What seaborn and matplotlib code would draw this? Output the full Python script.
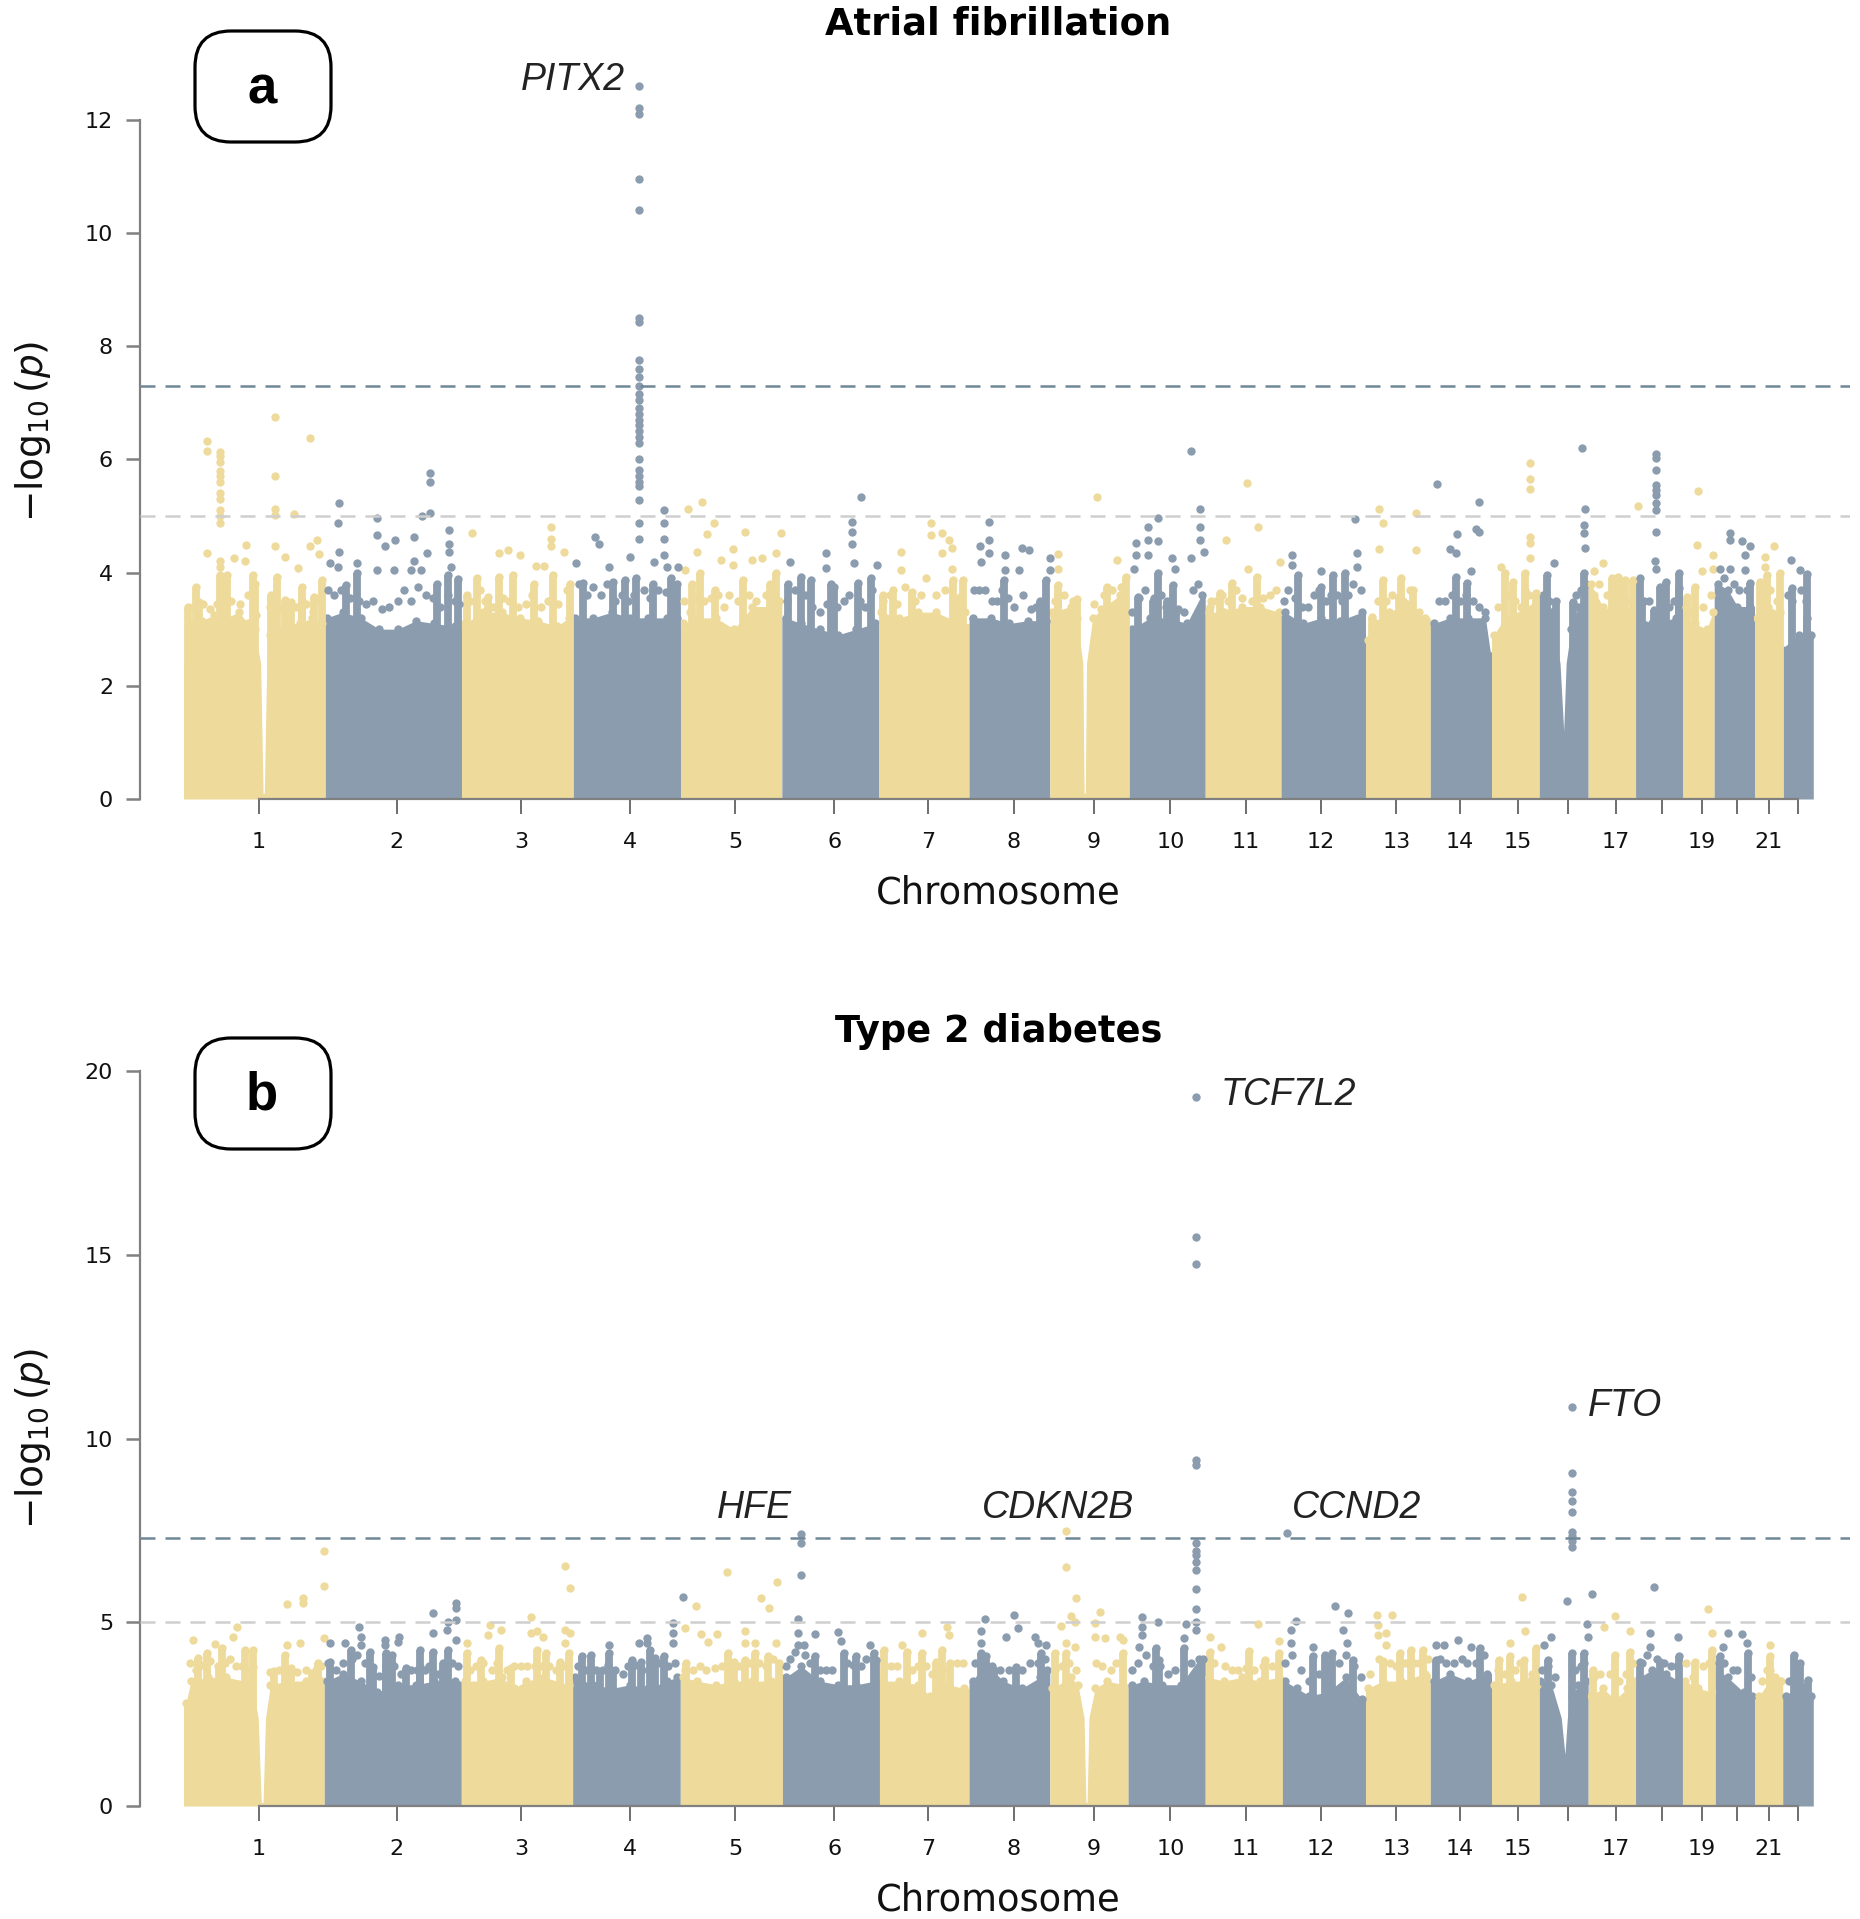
import numpy as np
import pandas as pd
import matplotlib
matplotlib.use("Agg")
import matplotlib.pyplot as plt
import seaborn as sns
from matplotlib.patches import FancyBboxPatch
from matplotlib.transforms import IdentityTransform

# x positions are genome units, y is -log10(p)
chrom_edges = [150, 265, 377, 468, 556, 639, 718, 792, 858, 922, 985, 1047, 1116, 1169,
               1219, 1257, 1298, 1337, 1374, 1401, 1434, 1457, 1482]
chrom_ticks = [211.3, 324.4, 425.8, 515.2, 601, 682, 758.4, 828.6, 894, 956.6, 1018, 1079.5,
               1141.3, 1193, 1240.5, 1281.4, 1320.5, 1358.6, 1390.9, 1419.5, 1445.6, 1469.3]
chrom_labels = ["1", "2", "3", "4", "5", "6", "7", "8", "9", "10", "11", "12", "13", "14", "15",
                "", "17", "", "19", "", "21", ""]

# solid part of each panel (top of the dense mass of SNPs)
a_sky_x = [152, 156, 165, 175, 185, 195, 203, 208, 213, 215, 216, 218, 221, 225, 235, 245, 255, 263,
           267, 280, 295, 310, 325, 340, 355, 372,
           380, 395, 410, 425, 440, 455, 465,
           470, 485, 500, 515, 530, 545, 553,
           558, 570, 585, 600, 615, 630, 637,
           642, 655, 670, 685, 700, 715,
           720, 735, 750, 765, 785,
           795, 810, 825, 840, 855,
           860, 875, 880, 885, 886, 887, 888, 893, 900, 915,
           925, 940, 955, 970, 982,
           988, 1000, 1015, 1030, 1045,
           1050, 1065, 1080, 1095, 1113,
           1118, 1125, 1135, 1150, 1165,
           1172, 1185, 1200, 1214, 1218,
           1221, 1230, 1245, 1255,
           1259, 1268, 1275, 1278, 1280, 1284, 1290, 1296,
           1300, 1310, 1320, 1330, 1336,
           1340, 1350, 1360, 1370,
           1377, 1385, 1395, 1400,
           1404, 1412, 1420, 1430,
           1436, 1445, 1455,
           1459, 1470, 1480]
a_sky_y = [2.4, 3.1, 3.15, 3.25, 3.2, 3.3, 3.1, 3.0, 2.4, 0.1, 0.1, 2.4, 2.9, 3.0, 3.1, 3.1, 3.2, 3.1,
           3.2, 3.3, 3.2, 3.0, 3.0, 3.15, 3.1, 3.05,
           3.1, 3.3, 3.3, 3.2, 3.15, 3.05, 3.2,
           3.2, 3.2, 3.3, 3.2, 3.2, 3.2, 3.2,
           3.1, 3.2, 3.2, 3.0, 3.4, 3.4, 3.5,
           3.2, 3.1, 3.0, 2.9, 3.0, 3.1,
           3.3, 3.2, 3.3, 3.3, 3.1,
           3.2, 3.2, 3.1, 3.15, 3.15,
           3.3, 3.4, 3.2, 2.4, 0.1, 0.1, 2.4, 3.2, 3.35, 3.6,
           3.0, 3.2, 3.2, 3.1, 3.6,
           3.3, 3.3, 3.4, 3.4, 3.3,
           3.3, 3.1, 3.2, 3.15, 3.3,
           2.8, 3.1, 3.3, 3.45, 3.2,
           3.1, 3.2, 3.2, 3.2, 2.6,
           2.9, 3.2, 3.35, 3.5,
           3.5, 3.3, 2.4, 1.2, 2.4, 3.0, 3.4, 3.8,
           3.8, 3.4, 3.3, 3.3, 3.2,
           3.2, 3.1, 3.15, 3.2,
           3.2, 3.1, 3.0, 3.3,
           3.8, 3.7, 3.4, 3.4,
           3.2, 3.4, 3.3,
           2.7, 2.9, 2.9]

b_sky_x = [152, 156, 170, 185, 200, 206, 211, 213.5, 215, 217, 221, 235, 250, 263,
           267, 280, 295, 308, 325, 340, 355, 372,
           380, 395, 410, 420, 430, 445, 465,
           470, 485, 500, 515, 530, 545, 553,
           558, 570, 585, 600, 615, 630, 637,
           642, 655, 670, 685, 700, 715,
           720, 735, 750, 760, 775, 788,
           795, 805, 820, 835, 850, 856,
           860, 875, 881, 886, 887.5, 888.5, 890, 895, 905, 918,
           925, 935, 950, 965, 980,
           988, 1000, 1015, 1030, 1045,
           1050, 1060, 1070, 1085, 1100, 1113,
           1118, 1130, 1145, 1165,
           1172, 1185, 1200, 1215,
           1221, 1235, 1250, 1256,
           1259, 1268, 1276, 1279, 1281, 1285, 1290, 1296,
           1300, 1310, 1320, 1330, 1336,
           1340, 1350, 1362, 1372,
           1377, 1388, 1399,
           1404, 1412, 1425, 1432,
           1438, 1448, 1456,
           1460, 1470, 1480]
b_sky_y = [2.8, 3.4, 3.5, 3.5, 3.4, 3.3, 2.4, 0.1, 0.1, 2.4, 3.3, 3.4, 3.4, 3.4,
           3.4, 3.6, 3.4, 3.1, 3.3, 3.3, 3.4, 3.4,
           3.4, 3.4, 3.5, 3.2, 3.4, 3.5, 3.3,
           3.5, 3.3, 3.2, 3.3, 3.2, 3.4, 3.5,
           3.5, 3.4, 3.3, 3.4, 3.4, 3.4, 3.5,
           3.5, 3.8, 3.4, 3.3, 3.3, 3.4,
           3.4, 3.4, 3.3, 3.0, 3.3, 3.2,
           3.4, 3.9, 3.4, 3.2, 3.5, 3.7,
           3.2, 3.5, 3.3, 2.4, 0.1, 0.1, 2.4, 3.2, 3.4, 3.3,
           3.3, 3.4, 3.3, 3.3, 4.0,
           3.5, 3.4, 3.5, 3.4, 3.5,
           3.4, 3.2, 3.0, 3.1, 3.5, 2.9,
           3.2, 3.4, 3.4, 3.6,
           3.4, 3.6, 3.4, 3.6,
           3.3, 3.4, 3.4, 3.3,
           3.4, 3.3, 2.4, 1.4, 2.4, 3.0, 3.3, 3.4,
           3.0, 3.2, 2.9, 3.2, 3.4,
           3.5, 3.7, 3.6, 3.4,
           3.4, 3.2, 3.1,
           3.7, 3.5, 3.1, 3.0,
           3.0, 3.5, 3.4,
           3.0, 3.3, 3.0]

# uneven shoulder of SNPs sitting just above the mass
a_shoulder_x = [158, 166, 172, 177, 184, 189, 196, 203, 209,
                221, 229, 236, 242, 250, 256, 262,
                268, 273, 279, 286, 293, 299, 305, 312, 318, 325, 330, 336, 342, 348, 354, 360, 366, 372, 375,
                384, 392, 396, 403, 411, 416, 423, 430, 435, 442, 448, 456, 463,
                473, 480, 485, 491, 496, 503, 508, 513, 518, 526, 531, 538, 544, 551,
                559, 564, 568, 575, 581, 587, 592, 596, 603, 612, 618, 626, 632,
                643, 650, 658, 664, 670, 676, 684, 690, 694, 703, 707, 713,
                722, 727, 733, 740, 748, 753, 757, 765, 772, 783, 789,
                796, 800, 805, 811, 815, 819, 824, 829, 836, 843, 847, 853,
                862, 870, 877, 894, 902, 909, 916,
                925, 931, 936, 943, 949, 953, 963, 968, 975, 979,
                990, 994, 999, 1004, 1010, 1015, 1023, 1032, 1038, 1043,
                1049, 1053, 1058, 1064, 1069, 1074, 1078, 1084, 1088, 1093, 1097, 1102, 1106, 1112,
                1126, 1133, 1138, 1147, 1152, 1160,
                1176, 1181, 1187, 1193, 1198, 1204, 1209, 1214,
                1224, 1233, 1238, 1243, 1250,
                1261, 1266, 1288, 1292,
                1303, 1307, 1313, 1318, 1325, 1333,
                1344, 1348, 1358, 1364, 1368,
                1378, 1382, 1392, 1398,
                1409, 1417, 1421, 1428,
                1439, 1447, 1452,
                1461, 1465, 1472, 1476]
a_shoulder_y = [3.4, 3.45, 3.35, 3.45, 3.5, 3.5, 3.45, 3.6, 3.25,
                3.4, 3.35, 3.45, 3.4, 3.45, 3.3, 3.5,
                3.7, 3.6, 3.7, 3.55, 3.5, 3.45, 3.5, 3.35, 3.4, 3.5, 3.7, 3.5, 3.75, 3.6, 3.55, 3.4, 3.6, 3.5, 3.45,
                3.5, 3.7, 3.5, 3.4, 3.55, 3.5, 3.4, 3.45, 3.6, 3.4, 3.5, 3.45, 3.7,
                3.8, 3.6, 3.75, 3.6, 3.8, 3.5, 3.6, 3.5, 3.6, 3.7, 3.55, 3.7, 3.65, 3.5,
                3.5, 3.3, 3.55, 3.5, 3.55, 3.6, 3.4, 3.6, 3.5, 3.6, 3.5, 3.6, 3.6,
                3.5, 3.7, 3.6, 3.4, 3.3, 3.45, 3.4, 3.5, 3.6, 3.5, 3.4, 3.7,
                3.5, 3.6, 3.45, 3.75, 3.5, 3.6, 3.9, 3.6, 3.7, 3.5, 3.3,
                3.7, 3.7, 3.7, 3.5, 3.5, 3.7, 3.55, 3.4, 3.6, 3.35, 3.4, 3.5,
                3.5, 3.6, 3.5, 3.45, 3.6, 3.7, 3.75,
                3.3, 3.55, 3.7, 3.55, 3.6, 3.4, 3.35, 3.3, 3.7, 3.8,
                3.5, 3.5, 3.6, 3.5, 3.7, 3.55, 3.5, 3.55, 3.6, 3.7,
                3.5, 3.7, 3.55, 3.4, 3.4, 3.6, 3.7, 3.5, 3.6, 3.6, 3.5, 3.6, 3.8, 3.7,
                3.5, 3.5, 3.6, 3.5, 3.7, 3.3,
                3.5, 3.5, 3.6, 3.5, 3.6, 3.5, 3.4, 3.3,
                3.4, 3.6, 3.5, 3.4, 3.6,
                3.6, 3.5, 3.6, 3.7,
                3.6, 3.8, 3.6, 3.5, 3.5, 3.5,
                3.5, 3.5, 3.4, 3.4, 3.5,
                3.4, 3.3, 3.4, 3.6,
                3.9, 3.8, 3.7, 3.7,
                3.5, 3.7, 3.5,
                3.6, 3.5, 3.7, 3.5]

b_shoulder_x = [155, 160, 165, 172, 178, 184, 188, 193, 198, 204,
                221, 228, 236, 243, 250, 258, 262,
                268, 275, 280, 288, 292, 298, 303, 310, 317, 322, 328, 336, 341, 347, 351, 358, 362, 369, 374,
                384, 389, 395, 402, 406, 414, 420, 426, 431, 437, 442, 449, 454, 460,
                472, 478, 487, 493, 497, 503, 509, 513, 519, 525, 534, 539, 546, 552,
                560, 566, 572, 577, 584, 590, 597, 604, 613, 620, 626, 632,
                642, 646, 650, 658, 662, 670, 675, 680, 692, 697, 704, 708, 714,
                723, 728, 733, 745, 750, 757, 762, 770, 782, 787,
                797, 811, 817, 825, 835, 842, 848, 854,
                862, 868, 874, 879, 896, 901, 908, 912,
                925, 930, 937, 942, 948, 955, 960, 973, 983,
                992, 1001, 1007, 1012, 1018, 1025, 1032, 1040,
                1050, 1056, 1063, 1070, 1078, 1087, 1094, 1100, 1107, 1112,
                1120, 1127, 1136, 1141, 1148, 1156, 1160, 1167,
                1177, 1182, 1188, 1195, 1199, 1206, 1213,
                1224, 1230, 1238, 1242, 1252,
                1260, 1265, 1271, 1287, 1292, 1295,
                1303, 1308, 1316, 1323, 1329, 1335,
                1342, 1346, 1354, 1360, 1366, 1371,
                1378, 1384, 1392, 1397,
                1405, 1409, 1416, 1420, 1431,
                1440, 1444, 1451, 1455,
                1462, 1467, 1474]
b_shoulder_y = [3.9, 3.7, 3.85, 3.95, 3.8, 3.9, 4.0, 3.8, 3.8, 3.7,
                3.65, 3.7, 3.7, 3.65, 3.7, 3.7, 3.8,
                3.9, 3.7, 3.9, 4.0, 4.1, 3.9, 3.6, 3.55, 3.7, 3.8, 3.6, 3.7, 3.7, 3.7, 3.8, 3.6, 3.7, 3.9, 3.8,
                3.7, 3.8, 3.9, 3.7, 3.9, 3.7, 3.8, 3.8, 3.8, 3.8, 3.8, 3.8, 3.7, 3.8,
                3.8, 3.7, 3.7, 3.7, 3.85, 3.7, 3.6, 3.8, 3.85, 3.7, 3.9, 3.9, 3.8, 3.9,
                3.7, 3.7, 3.8, 3.7, 3.75, 3.8, 3.9, 3.8, 3.9, 3.9, 3.8, 4.0,
                3.8, 4.0, 4.2, 4.1, 3.9, 3.7, 3.7, 3.7, 3.9, 3.85, 3.8, 4.0, 3.9,
                3.8, 3.8, 3.8, 3.7, 3.8, 3.8, 3.6, 3.7, 3.9, 3.9,
                3.9, 3.8, 3.7, 3.7, 3.7, 3.9, 3.9, 4.0,
                3.7, 3.8, 3.9, 3.7, 3.9, 3.8, 3.7, 3.9,
                3.7, 3.9, 4.1, 3.8, 3.8, 3.6, 3.7, 3.9, 4.0,
                3.9, 3.8, 3.7, 3.7, 3.75, 3.7, 3.8, 3.8,
                3.9, 4.1, 3.7, 3.4, 3.6, 3.8, 3.9, 4.1, 3.8, 3.5,
                3.6, 4.0, 3.9, 3.8, 3.9, 3.9, 3.9, 4.0,
                4.0, 3.9, 3.9, 4.0, 3.9, 3.9, 4.1,
                3.7, 3.6, 3.7, 3.9, 3.6,
                3.7, 3.8, 3.5, 3.7, 3.8, 3.9,
                3.5, 3.6, 3.6, 3.4, 3.6, 3.9,
                3.9, 4.1, 4.0, 3.9, 3.8, 3.8,
                3.9, 3.5, 3.8, 3.9,
                3.9, 3.9, 3.7, 3.7, 3.5,
                3.4, 3.7, 3.5, 3.4,
                3.4, 3.5, 3.2]

# SNPs standing clear of the mass, odd chromosomes then even chromosomes
a_gold_x = [154, 160.5, 162.7, 169.2, 169.5, 169.5, 180.2, 180.2, 180.2, 180.2, 180.2, 180.2, 180.2,
            180.2, 180.2, 180.2, 180.2, 180.2, 180.2, 180.2, 185.9, 191, 200, 201, 206.4, 208,
            221.8, 224.4, 225, 225, 225, 225, 226, 232.7, 232.7, 238, 240.6, 243.6, 246.7, 246.7,
            253.5, 253.7, 257, 259, 261, 263,
            381.5, 386, 390, 399, 407.8, 407.8, 415, 419.6, 425.3, 438.4, 445, 436.5,
            450.2, 450.2, 450.2, 451.6, 461, 466,
            560, 562, 565.6, 569.7, 572, 573.7, 577.6, 583.7, 584, 589.5, 599, 599, 607, 608.7,
            614.8, 623, 629, 634, 634, 638.5,
            736, 736, 722, 730, 745, 761, 761, 769.7, 770, 775.5, 778, 778, 779, 786.7, 785,
            865, 865, 865, 865, 880, 896.7, 905, 912.7, 920,
            989, 997.5, 1002, 1007, 1019, 1020, 1027.6, 1028, 1046,
            1121, 1127.4, 1127, 1130, 1130, 1145, 1143, 1155, 1157.5, 1157.5,
            1226.8, 1230, 1236.5, 1246, 1246, 1250.5, 1250.5, 1250.5, 1250.5, 1250.5, 1250.5, 1255,
            1303, 1310, 1317.4, 1322, 1328, 1335, 1339,
            1386.7, 1388, 1391, 1385, 1379, 1400, 1400,
            1438.6, 1442.4, 1442.4, 1444, 1449.7, 1454.6]
a_gold_y = [3.4, 3.75, 3.48, 4.34, 6.33, 6.14, 6.13, 6.05, 5.95, 5.8, 5.7, 5.6, 5.4, 5.3,
            5.1, 5.0, 4.87, 4.2, 4.1, 3.95, 3.95, 4.25, 4.2, 4.49, 3.95, 3.8,
            3.6, 6.75, 5.7, 5.13, 5.02, 4.47, 3.93, 4.28, 3.51, 3.48, 5.03, 4.08, 3.75, 3.5,
            6.37, 4.47, 3.57, 4.57, 4.33, 3.87,
            3.6, 4.7, 3.9, 3.57, 4.34, 3.93, 4.39, 3.95, 4.31, 4.12, 4.12, 3.8,
            4.81, 4.6, 4.46, 3.95, 4.36, 3.8,
            4.04, 5.13, 3.8, 4.37, 4.0, 5.24, 4.68, 4.87, 3.69, 4.22, 4.41, 4.13, 3.87, 4.72,
            4.22, 4.25, 3.8, 4.34, 4.0, 4.7,
            4.37, 4.04, 3.6, 3.7, 3.65, 4.87, 4.66, 4.69, 4.34, 4.58, 4.43, 4.06, 3.87, 3.87, 3.57,
            4.33, 4.07, 3.78, 3.6, 3.54, 5.34, 3.75, 4.22, 3.93,
            3.4, 3.63, 4.58, 3.81, 5.59, 4.06, 3.93, 4.81, 4.18,
            3.21, 5.13, 4.42, 4.87, 3.87, 3.9, 3.57, 3.69, 5.06, 4.4,
            4.1, 4.0, 3.84, 3.99, 3.69, 5.93, 5.65, 5.48, 4.63, 4.52, 4.25, 3.63,
            4.02, 4.16, 3.9, 3.93, 3.87, 3.87, 5.18,
            4.49, 5.44, 4.02, 3.75, 3.57, 4.31, 4.07,
            3.84, 4.28, 4.1, 3.96, 4.47, 4.0]

a_blue_x = [270, 276.5, 276.5, 277, 277.4, 283, 291.8, 291.8, 308, 308, 308, 314.6, 322.4, 323, 335.6,
            338, 338, 344.3, 345, 349, 351.3, 351.3, 351.3, 357, 366.6, 366.6, 366.6, 368.4, 366, 374,
            471, 476.5, 486.6, 489.6, 497.5, 501, 510.6, 515, 519.4,
            522.5, 522.5, 522.5, 522.5, 522.5, 522.5, 522.5, 522.5, 522.5, 522.5, 522.5, 522.5, 522.5,
            522.5, 522.5, 522.5, 522.5, 522.5, 522.5, 522.5, 522.5, 522.5, 522.5, 522.5, 522.5, 522.5,
            522.5, 522.5,
            534.7, 534, 542.6, 542.6, 542.6, 543, 545, 548, 554.4, 553,
            644, 645.5, 655, 663, 674.8, 674.8, 679, 682, 696.2, 696.2, 696.2, 698, 701, 704, 712, 717,
            801, 808.5, 808.5, 808.5, 802, 821.6, 821.6, 835, 841, 832.7, 858, 858, 855, 849.7, 820.6,
            928.7, 928.7, 927, 938.4, 938.4, 938.4, 946.6, 946.6, 946.6, 957.8, 960.7, 958.7, 930,
            942, 954, 961, 973.3, 980.5, 980.5, 980.5, 973, 984,
            1055.7, 1055.7, 1060.5, 1080, 1089.6, 1099, 1107.5, 1109, 1109, 1080,
            1174.4, 1190.4, 1185, 1190, 1190, 1202.5, 1199, 1206, 1209, 1209,
            1264, 1270, 1272, 1286, 1293, 1295.6, 1295, 1295, 1295.6, 1295,
            1340, 1341.6, 1352, 1353.8, 1353.8, 1353.8, 1353.8, 1353.8, 1353.8, 1353.8, 1353.8, 1353.8,
            1353, 1353.8, 1362, 1357, 1372, 1372,
            1405.6, 1414, 1414, 1414, 1424, 1426.5, 1426.5, 1430, 1430,
            1463.8, 1471.5, 1477, 1465, 1477]
a_blue_y = [4.16, 4.1, 4.87, 4.37, 5.23, 3.78, 4.16, 4.0, 4.96, 4.66, 4.04, 4.46, 4.04, 4.57, 4.04,
            4.63, 4.2, 4.04, 4.99, 4.35, 5.75, 5.6, 5.06, 3.8, 4.75, 4.5, 4.37, 4.1, 3.95, 3.88,
            4.16, 3.82, 4.63, 4.5, 4.1, 3.84, 3.87, 4.28, 3.9,
            12.6, 12.2, 12.1, 10.95, 10.4, 8.5, 8.42, 7.75, 7.6, 7.45, 7.3, 7.15, 7.05, 6.9,
            6.8, 6.7, 6.6, 6.5, 6.4, 6.28, 6.0, 5.81, 5.7, 5.6, 5.52, 5.29, 4.87, 4.6,
            4.19, 3.8, 5.1, 4.87, 4.6, 4.31, 4.1, 3.9, 4.1, 3.8,
            3.8, 4.19, 3.93, 3.87, 4.34, 4.08, 3.8, 3.75, 4.9, 4.72, 4.5, 4.16, 3.82, 5.33, 3.9, 4.13,
            4.46, 4.9, 4.58, 4.34, 4.19, 4.31, 4.05, 4.43, 4.4, 4.05, 4.25, 4.05, 3.87, 3.5, 3.87,
            4.52, 4.31, 4.07, 4.81, 4.58, 4.31, 4.96, 4.55, 3.99, 4.26, 4.06, 3.78, 3.57,
            3.5, 3.5, 3.31, 6.15, 5.13, 4.81, 4.58, 4.25, 4.37,
            4.31, 4.13, 3.96, 4.02, 3.96, 3.99, 4.95, 4.34, 4.1, 3.75,
            5.56, 4.68, 4.42, 4.34, 3.93, 4.03, 3.81, 4.77, 5.25, 4.72,
            3.96, 4.16, 3.5, 3.48, 6.2, 5.12, 4.84, 4.69, 4.43, 3.99,
            3.9, 3.5, 3.34, 6.1, 6.02, 5.81, 5.55, 5.46, 5.37, 5.22, 5.1, 4.72,
            4.2, 4.06, 3.84, 3.75, 3.99, 3.72,
            4.07, 4.69, 4.58, 4.07, 4.56, 4.31, 4.05, 4.46, 3.81,
            4.22, 4.05, 3.97, 3.72, 3.2]

b_gold_x = [157.4, 162, 169, 175.7, 179, 181.7, 190.4, 194, 200, 206.9, 206.9,
            224, 233, 234.4, 234.4, 237.6, 245, 248, 248, 255, 260, 264.5, 264.5, 264.5,
            382, 382, 393.5, 400.4, 399, 409.6, 408, 418, 434, 434, 439, 439, 444, 446,
            457.7, 462, 462, 462, 465.5, 466, 465,
            561, 560, 568.7, 573.3, 578.4, 586, 594.4, 595.3, 600, 609, 609, 609, 617, 617, 622,
            628.8, 635.3, 634, 628, 637,
            722.4, 737.5, 741, 753.6, 753.6, 769.6, 765, 776.5, 774, 776,
            862.5, 867, 871.6, 871.6, 871.6, 871.6, 875, 878.5, 878.5, 879.4, 894.6, 894.6, 899,
            903, 915, 917.5, 917.5,
            988.6, 988.6, 997.7, 1020.7, 1028.5, 1034, 1045, 1045,
            1125.7, 1126, 1126, 1133, 1133, 1130, 1137.6, 1144.5, 1153, 1163,
            1225, 1234, 1234, 1243.6, 1246, 1245.5, 1255,
            1302, 1311, 1320, 1320, 1332.5, 1332.5,
            1396, 1399, 1399, 1385,
            1446.7, 1446.7, 1446.7]
b_gold_y = [4.52, 4.02, 4.16, 4.41, 3.79, 4.29, 4.61, 4.88, 4.25, 4.25, 3.79,
            3.66, 4.11, 5.5, 4.38, 3.75, 4.43, 5.53, 5.65, 3.61, 3.88, 6.94, 5.99, 4.56,
            4.43, 4.16, 3.98, 4.93, 4.66, 4.79, 4.29, 3.75, 5.14, 4.72, 4.75, 4.25, 4.59, 4.16,
            3.93, 6.53, 4.79, 4.43, 5.92, 4.7, 4.16,
            3.88, 4.84, 5.43, 4.68, 4.46, 4.67, 6.36, 4.16, 3.93, 4.75, 4.43, 3.97, 4.43, 4.16, 5.65,
            5.38, 6.09, 4.43, 4.07, 3.88,
            4.25, 4.38, 4.2, 4.7, 4.16, 4.25, 3.93, 3.88, 4.88, 4.66,
            4.16, 4.91, 7.47, 6.5, 4.43, 4.16, 5.17, 5.02, 4.34, 5.65, 4.97, 4.61, 5.29,
            4.56, 4.61, 4.52, 4.16,
            4.59, 4.2, 4.34, 4.22, 4.95, 3.98, 4.49, 4.16,
            5.2, 4.93, 4.66, 4.7, 4.38, 3.95, 5.2, 4.16, 4.25, 4.25,
            3.98, 4.43, 4.07, 5.68, 4.76, 3.98, 4.29,
            3.7, 4.88, 5.18, 4.11, 4.75, 4.2,
            5.36, 4.7, 4.25, 3.93,
            4.37, 4.07, 3.7]

b_blue_x = [269.7, 269.7, 282, 286.7, 293, 295, 295, 302.7, 305, 314.7, 314.7, 315.6, 315.6, 320, 325.7,
            325, 331.6, 343, 343, 353.6, 353.6, 353.6, 362, 366, 365, 366, 373, 373, 373, 373,
            476, 483, 490, 497.7, 497.7, 501, 516.4, 522, 524, 528.8, 528.8, 531, 535.7, 542.6,
            550.4, 550.4, 550.4, 558.6,
            652, 652, 652, 655, 655, 655, 657, 666.4, 666.4, 684.7, 687, 690, 700, 711, 714, 716,
            802, 802, 802, 805, 805.5, 822, 812, 829, 830, 832, 846, 848.7, 851, 855,
            933.5, 933.5, 933.5, 931, 946.4, 945, 947, 968, 968, 969.3, 977.5, 977.5, 977.5, 977.5,
            977.5, 977.5, 977.5, 977.5, 977.5, 977.5, 977.5, 977.5, 977.5, 977.5,
            1052, 1055, 1055, 1059.6, 1073.4, 1073.4, 1083, 1089, 1091, 1097.7, 1101, 1102, 1105.5,
            1174, 1174, 1180, 1191.7, 1202, 1210,
            1262, 1268, 1265, 1281, 1284.4, 1284.4, 1284.4, 1284.4, 1284.4, 1284.4, 1284.4, 1284.4,
            1284.4, 1284.4, 1297, 1298, 1295, 1301,
            1340, 1348.6, 1348.6, 1352, 1357, 1371.5, 1372,
            1406, 1408, 1412, 1424, 1428, 1429,
            1466.4, 1471, 1478]
b_blue_y = [4.43, 3.93, 4.43, 4.25, 4.88, 4.61, 4.38, 4.2, 3.79, 4.52, 4.38, 4.16, 3.84, 4.11, 4.61,
            4.47, 3.75, 4.25, 3.79, 5.26, 4.7, 4.18, 3.88, 5.02, 4.79, 4.25, 5.52, 5.38, 5.06, 4.52,
            4.07, 4.11, 3.66, 4.37, 4.16, 3.66, 3.98, 4.43, 3.93, 4.56, 4.43, 4.25, 4.02, 4.07,
            4.97, 4.7, 4.43, 5.7,
            5.09, 4.7, 4.38, 7.4, 7.15, 6.29, 4.38, 4.68, 4.07, 4.73, 4.49, 4.16, 4.07, 4.38, 4.16, 3.98,
            4.75, 4.43, 4.16, 5.08, 4.07, 4.59, 3.7, 5.2, 3.79, 4.84, 4.61, 4.43, 4.16, 4.37,
            5.15, 4.88, 4.66, 4.34, 5.02, 4.29, 3.98, 4.56, 4.29, 4.95, 19.3, 15.47, 14.74, 9.42,
            9.28, 7.15, 6.95, 6.83, 6.65, 6.42, 5.91, 5.35, 5.02, 4.79,
            7.42, 4.79, 4.43, 5.04, 4.34, 4.07, 4.11, 4.16, 5.43, 4.79, 4.43, 5.24, 3.98,
            4.38, 3.98, 4.38, 4.52, 4.34, 4.29,
            4.37, 4.61, 3.98, 5.59, 10.85, 9.05, 8.55, 8.3, 8.0, 7.45, 7.35, 7.2, 7.05, 4.16,
            4.95, 4.61, 4.16, 5.76,
            3.93, 4.7, 4.34, 5.95, 3.93, 4.61, 4.07,
            4.07, 4.34, 4.7, 4.68, 4.43, 4.16,
            4.11, 3.9, 3.43]

gold = "#EEDA9B"
blue = "#8B9CAF"
W, H = 1860, 1919


def add_dots(ax, x, y, color, stem_cut):
    # columns of overlapping SNPs are drawn as stems under the dots
    df = pd.DataFrame({"x": x, "y": y})
    low = df[df["y"] <= stem_cut]
    ax.vlines(low["x"], 0, low["y"], color=color, lw=5.6, zorder=2)
    sns.scatterplot(data=df, x="x", y="y", ax=ax, color=color, s=36, linewidth=0, zorder=3, clip_on=False)


def draw_panel(ax, sky_x, sky_y, shoulder_x, shoulder_y, gold_x, gold_y, blue_x, blue_y, y_ticks, y_top, stem_cut):
    sky = pd.DataFrame({"x": sky_x, "y": sky_y})
    sky["chrom"] = np.searchsorted(chrom_edges, sky["x"], side="right") - 1
    shoulder = pd.DataFrame({"x": shoulder_x, "y": shoulder_y})
    shoulder["chrom"] = np.searchsorted(chrom_edges, shoulder["x"], side="right") - 1
    for chrom, part in sky.groupby("chrom"):
        color = gold if chrom % 2 == 0 else blue
        xs = [chrom_edges[chrom]] + part["x"].tolist() + [chrom_edges[chrom + 1]]
        ys = [part["y"].iloc[0]] + part["y"].tolist() + [part["y"].iloc[-1]]
        ax.fill_between(xs, 0, ys, color=color, linewidth=0, zorder=1)
        tops = part[part["y"] > 2.7]
        sns.scatterplot(data=tops, x="x", y="y", ax=ax, color=color, s=36, linewidth=0, zorder=2)
        extra = shoulder[shoulder["chrom"] == chrom]
        # shoulder dots float, which leaves the small white holes above the mass
        add_dots(ax, extra["x"], extra["y"], color, 0)

    add_dots(ax, gold_x, gold_y, gold, stem_cut)
    add_dots(ax, blue_x, blue_y, blue, stem_cut)

    ax.axhline(5, color="#CFCFCF", lw=1.8, dashes=(6, 4), zorder=4)
    ax.axhline(7.3, color="#6F8897", lw=1.8, dashes=(6, 4), zorder=4)

    ax.set_xlim(114, 1512)
    ax.set_ylim(0, y_top)
    ax.set_xticks(chrom_ticks)
    ax.set_xticklabels(chrom_labels)
    ax.set_yticks(y_ticks)
    ax.set_xlabel("")
    ax.set_ylabel("")
    ax.tick_params(axis="x", bottom=True, length=11, width=1.2, color="#555555", labelsize=16, pad=13, labelcolor="#111111")
    ax.tick_params(axis="y", left=True, length=10, width=1.8, color="#808080", labelsize=16, pad=9, labelcolor="#111111")
    sns.despine(ax=ax, top=True, right=True)
    ax.spines["left"].set_bounds(0, y_ticks[-1])
    ax.spines["left"].set_color("#808080")
    ax.spines["left"].set_linewidth(1.6)
    ax.spines["bottom"].set_bounds(chrom_ticks[0], chrom_ticks[-1])
    ax.spines["bottom"].set_color("#808080")
    ax.spines["bottom"].set_linewidth(1.6)


def px_text(fig, x, y, s, **kwargs):
    fig.text(x / W, 1 - y / H, s, ha=kwargs.pop("ha", "center"), va=kwargs.pop("va", "center"), **kwargs)


def letter_box(fig, y_top, letter, letter_y):
    box = FancyBboxPatch((195, H - y_top - 111), 136, 111, boxstyle="round,pad=0,rounding_size=36",
                         transform=IdentityTransform(), fc="white", ec="black", lw=2.3, zorder=5)
    fig.add_artist(box)
    px_text(fig, 262, letter_y, letter, fontsize=38, fontweight="bold", family="Liberation Sans",
            color="black", zorder=6)


sns.set_theme(style="white")
fig = plt.figure(figsize=(W / 100, H / 100), dpi=100)

ax_a = fig.add_axes([139.5 / W, 1 - 799 / H, (1850 - 139.5) / W, (799 - 63) / H])
ax_b = fig.add_axes([139.5 / W, 1 - 1806 / H, (1850 - 139.5) / W, (1806 - 1060) / H])
draw_panel(ax_a, a_sky_x, a_sky_y, a_shoulder_x, a_shoulder_y, a_gold_x, a_gold_y, a_blue_x, a_blue_y,
           [0, 2, 4, 6, 8, 10, 12], 13.0, 4.0)
draw_panel(ax_b, b_sky_x, b_sky_y, b_shoulder_x, b_shoulder_y, b_gold_x, b_gold_y, b_blue_x, b_blue_y,
           [0, 5, 10, 15, 20], 20 * 746 / 735, 4.3)

px_text(fig, 998.5, 24, "Atrial fibrillation", fontsize=26.6, fontweight="bold", color="black")
px_text(fig, 998.5, 1031, "Type 2 diabetes", fontsize=26.6, fontweight="bold", color="black")
px_text(fig, 998.5, 893, "Chromosome", fontsize=26.6, color="#111111")
px_text(fig, 998.5, 1900, "Chromosome", fontsize=26.6, color="#111111")
px_text(fig, 33, 431, r"$-\log_{10}(p)$", fontsize=27, rotation=90, color="#111111")
px_text(fig, 33, 1438, r"$-\log_{10}(p)$", fontsize=27, rotation=90, color="#111111")

letter_box(fig, 31, "a", 89)
letter_box(fig, 1038, "b", 1095)

# gene names next to the peaks
gene_style = {"fontsize": 27, "style": "italic", "family": "Liberation Sans", "color": "#222222"}
px_text(fig, 573, 80, "PITX2", **gene_style)
px_text(fig, 1288, 1095, "TCF7L2", **gene_style)
px_text(fig, 1625, 1406, "FTO", **gene_style)
px_text(fig, 754, 1508, "HFE", **gene_style)
px_text(fig, 1058, 1508, "CDKN2B", **gene_style)
px_text(fig, 1357, 1508, "CCND2", **gene_style)

fig.savefig("out.png", dpi=100)
